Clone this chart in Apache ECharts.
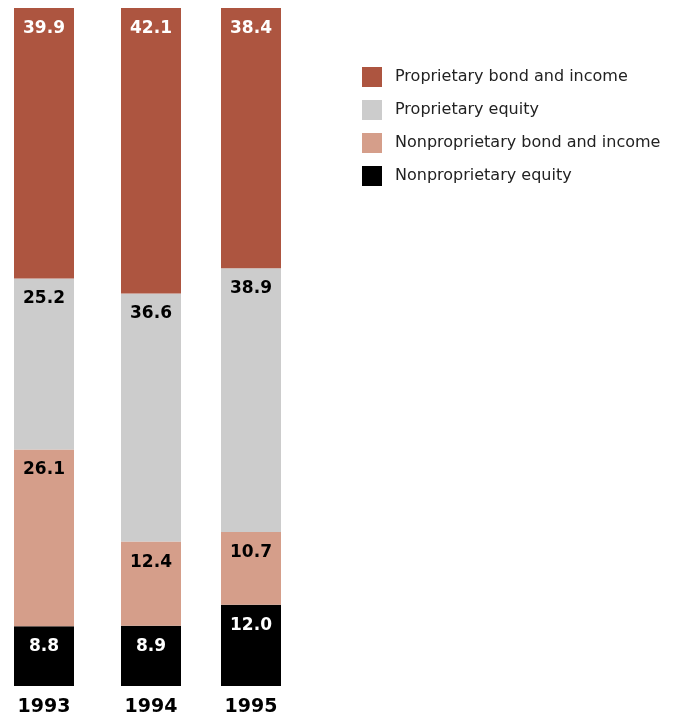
<!DOCTYPE html>
<html>
<head>
<meta charset="utf-8">
<script src="https://cdn.jsdelivr.net/npm/echarts@6/dist/echarts.min.js"></script>
<style>html,body{margin:0;padding:0;background:#fff;}#c{width:674px;height:717px;}</style>
</head>
<body>
<div id="c"></div>
<script>
var years = ['1993', '1994', '1995'];
var seriesNames = ['Nonproprietary equity', 'Nonproprietary bond and income', 'Proprietary equity', 'Proprietary bond and income'];
var nonpropEquity = [8.8, 8.9, 12.0];
var nonpropBond = [26.1, 12.4, 10.7];
var propEquity = [25.2, 36.6, 38.9];
var propBond = [39.9, 42.1, 38.4];
var legendOrder = ['Proprietary bond and income', 'Proprietary equity', 'Nonproprietary bond and income', 'Nonproprietary equity'];

var values = [nonpropEquity, nonpropBond, propEquity, propBond];
var colors = ['#000000', '#D59E8A', '#CCCCCC', '#AD5540'];
var labelColors = ['#ffffff', '#000000', '#000000', '#ffffff'];
var gridLefts = [14, 121, 221];

var grids = [], xAxes = [], yAxes = [], series = [];
years.forEach(function (yr, i) {
  grids.push({ left: gridLefts[i], width: 60, top: 8, bottom: 30 });
  xAxes.push({
    type: 'category', gridIndex: i, data: [yr],
    axisLine: { show: false }, axisTick: { show: false },
    axisLabel: { fontFamily: 'DejaVu Sans', fontWeight: 'bold', fontSize: 19, color: '#000', margin: 12 }
  });
  yAxes.push({ type: 'value', gridIndex: i, min: 0, max: 100, show: false, splitLine: { show: false } });
  values.forEach(function (arr, s) {
    series.push({
      type: 'bar', name: seriesNames[s], xAxisIndex: i, yAxisIndex: i, stack: 'y' + i,
      barWidth: '100%', data: [arr[i]],
      itemStyle: { color: colors[s] },
      label: {
        show: true, position: 'insideTop', distance: 12,
        formatter: function (p) { return p.value.toFixed(1); },
        fontFamily: 'DejaVu Sans', fontWeight: 'bold', fontSize: 17, color: labelColors[s]
      },
      emphasis: { disabled: true }
    });
  });
});

var chart = echarts.init(document.getElementById('c'), null, { renderer: 'canvas' });
chart.setOption({
  animation: false,
  color: colors,
  grid: grids, xAxis: xAxes, yAxis: yAxes, series: series,
  legend: {
    data: legendOrder, orient: 'vertical', left: 357, top: 62,
    icon: 'rect', itemWidth: 20, itemHeight: 20, itemGap: 13,
    selectedMode: false,
    textStyle: { fontFamily: 'DejaVu Sans', fontSize: 16, color: '#222', padding: [0, 0, 0, 8] }
  }
});
</script>
</body>
</html>
